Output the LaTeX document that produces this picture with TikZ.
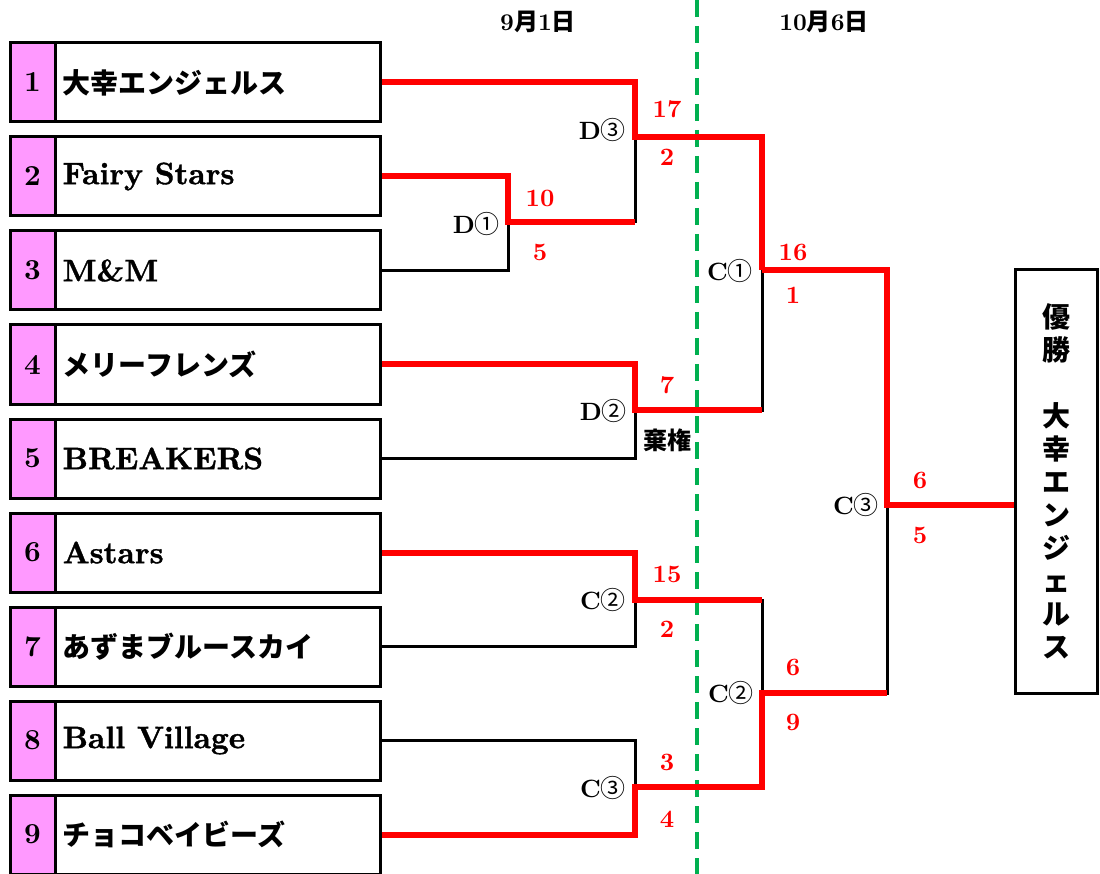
\documentclass[tikz,border=0pt]{standalone}
\usepackage{fontspec}
\newfontfamily\jp{Noto Sans CJK JP}
\newfontfamily\bx{lmroman10-bold.otf}
\newfontfamily\bxx{lmroman10-bold.otf}[FakeBold=1.2]
\usetikzlibrary{positioning}
\definecolor{seedpink}{RGB}{255,153,255}
\definecolor{lanegreen}{RGB}{0,176,80}
\newcommand\jn[1]{{\jp\bfseries\fontsize{28}{30}\selectfont #1}}
\tikzset{
  team/.style={draw, line width=3pt, minimum width=370pt, minimum height=79pt, inner sep=0pt},
  seed/.style={draw, line width=3pt, fill=seedpink, minimum width=45pt, minimum height=79pt, inner sep=0pt, font=\bx\fontsize{29}{29}\selectfont},
  tname/.style={inner sep=0pt, font=\bxx\fontsize{31}{31}\selectfont},
  win/.style={red, line width=6pt},
  lose/.style={black, line width=3pt},
  score/.style={red, inner sep=0pt, font=\bx\fontsize{25}{25}\selectfont},
  game/.style={inner sep=0pt, font=\bx\fontsize{25}{25}\selectfont},
  datelbl/.style={inner sep=0pt, font=\bx\fontsize{24}{24}\selectfont},
}
\begin{document}
\begin{tikzpicture}[x=1pt, y=-1pt]
  \clip (0,0) rectangle (1100,874);

  % teams
  \foreach \i/\team in {1/{\jn{大幸エンジェルス}}, 2/Fairy Stars, 3/M\&M, 4/{\jn{メリーフレンズ}},
      5/BREAKERS, 6/Astars, 7/{\jn{あずまブルースカイ}}, 8/Ball Village, 9/{\jn{チョコベイビーズ}}}{
    \node[team] (t\i) at (195, 82.5+94*\i-94) {};
    \node[seed, anchor=west] (s\i) at (t\i.west) {\i};
    \node[tname, right=6pt of s\i] (n\i) {\team};
  }

  % day divider
  \draw[lanegreen, line width=4pt, dash pattern=on 17pt off 9pt] (697,0) -- (697,874);
  \node[datelbl] (day1) at (538,22) {9{\jp\bfseries 月}1{\jp\bfseries 日}};
  \node[datelbl] (day2) at (824,22) {10{\jp\bfseries 月}6{\jp\bfseries 日}};

  % champion
  \node[draw, line width=3pt, minimum width=82pt, minimum height=423pt, align=center,
    font=\jp\bfseries\fontsize{28}{33}\selectfont] (champ) at (1056,481.5)
    {優\\勝\\\\大\\幸\\エ\\ン\\ジ\\ェ\\ル\\ス};

  % junctions
  \coordinate (d1) at (508,222);
  \coordinate (d3) at (635,137);
  \coordinate (d2) at (635,410);
  \coordinate (c2a) at (635,600);
  \coordinate (c3a) at (635,787);
  \coordinate (c1) at (762,270);
  \coordinate (c2b) at (762,693);
  \coordinate (c3b) at (887,505);

  % losing sides
  \draw[lose] (t3.east) -| (d1);
  \draw[lose] (d1) -| (d3);
  \draw[lose] (t5.east) -| (d2);
  \draw[lose] (d2) -| (c1);
  \draw[lose] (t7.east) -| (c2a);
  \draw[lose] (t8.east) -| (c3a);
  \draw[lose] (c2a) -| (c2b);
  \draw[lose] (c2b) -| (c3b);

  % winning sides
  \draw[win] (t2.east) -| (d1) -- (d1 -| d3);
  \draw[win] (t1.east) -| (d3) -| (c1);
  \draw[win] (t4.east) -| (d2) -- (d2 -| c1);
  \draw[win] (c1) -| (c3b) -- (c3b -| champ.west);
  \draw[win] (t6.east) -| (c2a) -- (c2a -| c2b);
  \draw[win] (t9.east) -| (c3a) -| (c2b) -- (c2b -| c3b);

  % game labels
  \node[game, anchor=east] (g1) at (500,224) {D{\jp ①}};
  \node[game, anchor=east] (g3) at (626,130) {D{\jp ③}};
  \node[game, anchor=east] (g2) at (627,411) {D{\jp ②}};
  \node[game, anchor=east] (g4) at (626,600) {C{\jp ②}};
  \node[game, anchor=east] (g5) at (626,788) {C{\jp ③}};
  \node[game, anchor=east] (g6) at (753,271) {C{\jp ①}};
  \node[game, anchor=east] (g7) at (754,693) {C{\jp ②}};
  \node[game, anchor=east] (g8) at (879,505) {C{\jp ③}};
  \node[game, font=\jp\bfseries\fontsize{24}{24}\selectfont] (forfeit) at (667,440) {棄権};

  % scores
  \node[score] at (540,198) {10};
  \node[score] at (540,252) {5};
  \node[score] at (667,109) {17};
  \node[score] at (667,157) {2};
  \node[score] at (667,385) {7};
  \node[score] at (667,574) {15};
  \node[score] at (667,629) {2};
  \node[score] at (667,762) {3};
  \node[score] at (667,819) {4};
  \node[score] at (793,252) {16};
  \node[score] at (793,295) {1};
  \node[score] at (793,667) {6};
  \node[score] at (793,722) {9};
  \node[score] at (920,480) {6};
  \node[score] at (920,535) {5};
\end{tikzpicture}
\end{document}
